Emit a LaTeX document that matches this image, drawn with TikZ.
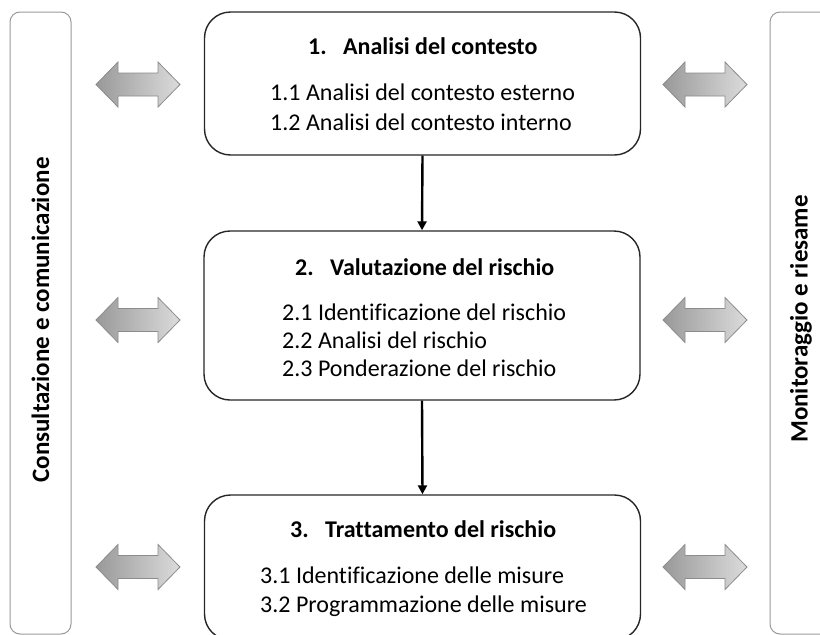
\documentclass[tikz,border=0pt]{standalone}
\usepackage{fontspec}
\setmainfont[Ligatures={NoCommon}]{Carlito}
\usetikzlibrary{arrows.meta}
\begin{document}
\begin{tikzpicture}[x=1pt,y=-1pt,
  stage/.style={draw=black!85, line width=1.4pt, rounded corners=26pt, minimum width=436pt, inner sep=0pt},
  side/.style={draw=black!40, line width=1pt, rounded corners=10pt, inner sep=0pt, minimum width=61pt, minimum height=622pt},
  flow/.style={-{Triangle[length=9pt,width=9pt]}, line width=2.4pt},
  txt/.style={anchor=base west, inner sep=0pt, font=\fontsize{24}{28}\selectfont},
  ttl/.style={txt, font=\fontsize{24}{28}\selectfont\bfseries},
  sidelbl/.style={rotate=90, inner sep=0pt, font=\fontsize{25}{30}\selectfont\bfseries},
  dbl/.pic={
    \shade[left color=black!40, right color=black!14, draw=black!45, line width=0.8pt]
      (-42,0) -- (-20,-22.5) -- (-20,-11.5) -- (20,-11.5) -- (20,-22.5) -- (42,0)
      -- (20,22.5) -- (20,11.5) -- (-20,11.5) -- (-20,22.5) -- cycle;
  }
]
\useasboundingbox (0,0) rectangle (820,635);
\clip (0,0) rectangle (820,635);

% side panels
\node[side] (lp) at (40.5,323) {};
\node[side] (rp) at (800.5,323) {};
\node[sidelbl] (ll) at (40.5,320) {Consultazione e comunicazione};
\node[sidelbl] (rl) at (801,319) {Monitoraggio e riesame};

% stage boxes
\node[stage, minimum height=143pt] (b1) at (422.5,83.5) {};
\node[stage, minimum height=169pt] (b2) at (422,315.5) {};
\node[stage, minimum height=145pt] (b3) at (422.5,567.5) {};

% texts
\node[ttl] (t1) at (308,54) {\makebox[35pt][l]{1.}Analisi del contesto};
\node[txt] (t11) at (270,100) {1.1 Analisi del contesto esterno};
\node[txt] (t12) at (270,130) {1.2 Analisi del contesto interno};

\node[ttl] (t2) at (295,275) {\makebox[35pt][l]{2.}Valutazione del rischio};
\node[txt] (t21) at (282,320) {2.1 Identificazione del rischio};
\node[txt] (t22) at (282,348) {2.2 Analisi del rischio};
\node[txt] (t23) at (282,376) {2.3 Ponderazione del rischio};

\node[ttl] (t3) at (290,537) {\makebox[35pt][l]{3.}Trattamento del rischio};
\node[txt] (t31) at (260,583) {3.1 Identificazione delle misure};
\node[txt] (t32) at (260,612) {3.2 Programmazione delle misure};

% flow arrows
\draw[flow] (b1.south) -- (b2.north);
\draw[flow] (b2.south) -- (b3.north);

% double arrows
\pic at (138,84.5) {dbl};
\pic at (705,84.5) {dbl};
\pic at (138,320) {dbl};
\pic at (705,320) {dbl};
\pic at (138,567) {dbl};
\pic at (705,567) {dbl};
\end{tikzpicture}
\end{document}
